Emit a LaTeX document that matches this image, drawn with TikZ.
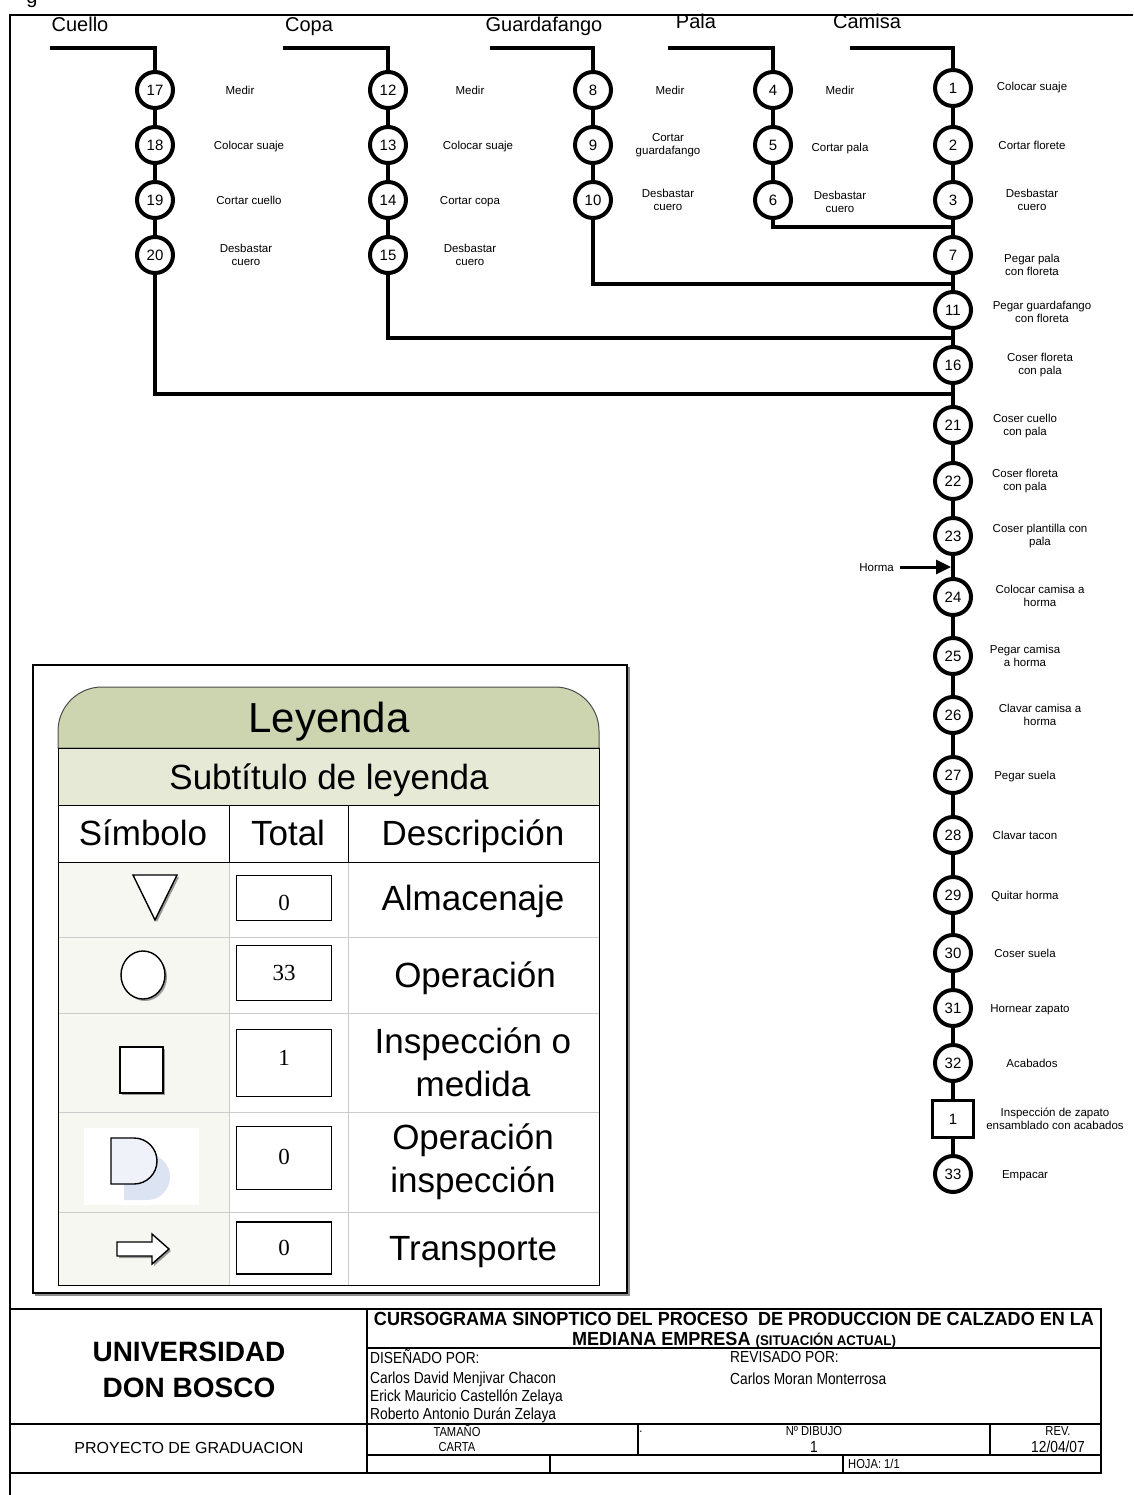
\documentclass[tikz,border=0pt]{standalone}
\usepackage{fontspec}
\usepackage{graphicx}
\setmainfont{Liberation Sans}
\newfontfamily\serifnum{Liberation Serif}
\newfontfamily\narrowfont[FakeStretch=0.86]{Liberation Sans}
\newfontfamily\titlefont[FakeStretch=0.95]{Liberation Sans}
\usetikzlibrary{arrows.meta}
\definecolor{hdr}{HTML}{CDD5B0}
\definecolor{subhdr}{HTML}{E6E9D6}
\definecolor{symcol}{HTML}{F6F7F1}
\definecolor{gridgray}{HTML}{CCCCCC}
\definecolor{dshadow}{HTML}{DCE3F2}
\definecolor{dfill}{HTML}{F0F2FA}
\newcommand{\fs}[2]{\fontsize{#1}{#2}\selectfont}

\begin{document}
\begin{tikzpicture}[x=1pt,y=-1pt,
  op/.style={circle, draw, line width=4pt, fill=white, minimum size=36pt, inner sep=0pt, font=\fs{15}{17}},
  inspbox/.style={rectangle, draw, line width=3.5pt, fill=white, minimum width=41pt, minimum height=37pt, inner sep=0pt, font=\fs{15}{17}},
  flow/.style={line width=4pt},
  lbl/.style={align=center, font=\fs{11.5}{13}, inner sep=0pt},
  lblone/.style={lbl, text height=10pt, text depth=1.5pt},
  head/.style={font=\fs{20}{22}, inner sep=0pt, anchor=base},
  legbig/.style={font=\fs{35}{43}, align=center, inner sep=0pt},
  legone/.style={legbig, text height=29pt, text depth=4pt},
  numbox/.style={draw, line width=1.6pt, fill=white, minimum width=95pt, inner sep=0pt},
  numtxt/.style={font=\serifnum\fs{23}{25}, inner sep=0pt},
  tb/.style={font=\narrowfont\fs{16}{18}, inner sep=0pt},
  tbsmall/.style={font=\narrowfont\fs{13}{15}, inner sep=0pt},
  shadowline/.style={draw=black!45, line width=1.6pt}
]
\useasboundingbox (0,0) rectangle (1133,1495);

% sheet frame and the cut heading letter
\begin{scope}
  \clip (0,0) rectangle (120,9);
  \node[font=\fs{20}{22}, anchor=base, inner sep=0pt] (gcut) at (32,4) {g};
\end{scope}
\draw[line width=2pt] (1133,15) -- (10,15) -- (10,1495);

% ---------- component lines ----------
\node[head] (hCuello) at (80,32) {Cuello};
\node[head] (hCopa) at (309,32) {Copa};
\node[head] (hGuarda) at (544,32) {Guardafango};
\node[head] (hPala) at (696,29) {Pala};
\node[head] (hCamisa) at (867,29) {Camisa};

\coordinate (sCuello) at (50,48);
\coordinate (sCopa) at (283,48);
\coordinate (sGuarda) at (490,48);
\coordinate (sPala) at (668,48);
\coordinate (sCamisa) at (850,48);

% Cuello
\node[op] (c17) at (155,90) {17};
\node[op] (c18) at (155,145) {18};
\node[op] (c19) at (155,200) {19};
\node[op] (c20) at (155,255) {20};
% Copa
\node[op] (c12) at (388,90) {12};
\node[op] (c13) at (388,145) {13};
\node[op] (c14) at (388,200) {14};
\node[op] (c15) at (388,255) {15};
% Guardafango
\node[op] (c8) at (593,90) {8};
\node[op] (c9) at (593,145) {9};
\node[op] (c10) at (593,200) {10};
% Pala
\node[op] (c4) at (773,90) {4};
\node[op] (c5) at (773,145) {5};
\node[op] (c6) at (773,200) {6};
% Camisa and main line
\node[op] (c1) at (953,88) {1};
\node[op] (c2) at (953,145) {2};
\node[op] (c3) at (953,200) {3};
\node[op] (c7) at (953,255) {7};
\node[op] (c11) at (953,310) {11};
\node[op] (c16) at (953,365) {16};
\node[op] (c21) at (953,425) {21};
\node[op] (c22) at (953,481) {22};
\node[op] (c23) at (953,536) {23};
\node[op] (c24) at (953,597) {24};
\node[op] (c25) at (953,656) {25};
\node[op] (c26) at (953,715) {26};
\node[op] (c27) at (953,775) {27};
\node[op] (c28) at (953,835) {28};
\node[op] (c29) at (953,895) {29};
\node[op] (c30) at (953,953) {30};
\node[op] (c31) at (953,1008) {31};
\node[op] (c32) at (953,1063) {32};
\node[inspbox] (i1) at (953,1119) {1};
\node[op] (c33) at (953,1174) {33};

% operation labels
\node[lblone] (t17) at (240,90) {Medir};
\node[lblone] (t18) at (249,145) {Colocar suaje};
\node[lblone] (t19) at (249,200) {Cortar cuello};
\node[lbl] (t20) at (246,255) {Desbastar\\cuero};
\node[lblone] (t12) at (470,90) {Medir};
\node[lblone] (t13) at (478,145) {Colocar suaje};
\node[lblone] (t14) at (470,200) {Cortar copa};
\node[lbl] (t15) at (470,255) {Desbastar\\cuero};
\node[lblone] (t8) at (670,90) {Medir};
\node[lbl] (t9) at (668,145) {Cortar\\guardafango};
\node[lbl] (t10) at (668,200) {Desbastar\\cuero};
\node[lblone] (t4) at (840,90) {Medir};
\node[lblone] (t5) at (840,147) {Cortar pala};
\node[lbl] (t6) at (840,202) {Desbastar\\cuero};
\node[lblone] (t1) at (1032,86) {Colocar suaje};
\node[lblone] (t2) at (1032,145) {Cortar florete};
\node[lbl] (t3) at (1032,200) {Desbastar\\cuero};
\node[lbl] (t7) at (1032,265) {Pegar pala\\con floreta};
\node[lbl] (t11) at (1042,312) {Pegar guardafango\\con floreta};
\node[lbl] (t16) at (1040,365) {Coser floreta\\con pala};
\node[lbl] (t21) at (1025,426) {Coser cuello\\con pala};
\node[lbl] (t22) at (1025,481) {Coser floreta\\con pala};
\node[lbl] (t23) at (1040,536) {Coser plantilla con\\pala};
\node[lbl] (t24) at (1040,596) {Colocar camisa a\\horma};
\node[lbl] (t25) at (1025,656) {Pegar camisa\\a horma};
\node[lbl] (t26) at (1040,715) {Clavar camisa a\\horma};
\node[lblone] (t27) at (1025,775) {Pegar suela};
\node[lblone] (t28) at (1025,835) {Clavar tacon};
\node[lblone] (t29) at (1025,895) {Quitar horma};
\node[lblone] (t30) at (1025,953) {Coser suela};
\node[lblone] (t31) at (1030,1008) {Hornear zapato};
\node[lblone] (t32) at (1032,1063) {Acabados};
\node[lbl] (ti1) at (1055,1119) {Inspecci\'on de zapato\\ensamblado con acabados};
\node[lblone] (t33) at (1025,1174) {Empacar};

% incoming lines
\draw[flow] (sCuello) -| (c17);
\draw[flow] (sCopa) -| (c12);
\draw[flow] (sGuarda) -| (c8);
\draw[flow] (sPala) -| (c4);
\draw[flow] (sCamisa) -| (c1);

% chains inside each component
\foreach \a/\b in {c17/c18, c18/c19, c19/c20, c12/c13, c13/c14, c14/c15,
                   c8/c9, c9/c10, c4/c5, c5/c6,
                   c1/c2, c2/c3, c3/c7, c7/c11, c11/c16, c16/c21, c21/c22,
                   c22/c23, c23/c24, c24/c25, c25/c26, c26/c27, c27/c28,
                   c28/c29, c29/c30, c30/c31, c31/c32, c32/i1, i1/c33}
  \draw[flow] (\a) -- (\b);

% joins into the main line
\coordinate (jPala) at (953,227);
\coordinate (jGuarda) at (953,284);
\coordinate (jCopa) at (953,338);
\coordinate (jCuello) at (953,394);
\draw[flow] (c6) |- (jPala);
\draw[flow] (c10) |- (jGuarda);
\draw[flow] (c15) |- (jCopa);
\draw[flow] (c20) |- (jCuello);

% external material: horma
\node[lblone, anchor=east] (horma) at (894,567) {Horma};
\coordinate (jHorma) at (951,567);
\draw[line width=3pt, -{Triangle[length=15pt,width=14pt]}, shorten <=6pt] (horma.east) -- (jHorma);

% ---------- legend ----------
\draw[shadowline] (35,1295) -- (629,1295) -- (629,667);
\draw[line width=1.8pt] (33,665) rectangle (627,1293);

\path[fill=hdr, draw=black!70, line width=1pt] (58,748) [rounded corners=44pt] -- (58,687) -- (599,687) [sharp corners] -- (599,748) -- cycle;
\fill[subhdr] (58,748) rectangle (599,805);
\fill[symcol] (58,862) rectangle (229,1285);
\fill[white] (84,1128) rectangle (199,1205);

% grid
\draw[gridgray, line width=1pt] (58,937) -- (599,937) (58,1013) -- (599,1013)
  (58,1112) -- (599,1112) (58,1212) -- (599,1212)
  (229,862) -- (229,1285) (348,862) -- (348,1285);
\draw[line width=1pt] (58,748) -- (599,748) (58,805) -- (599,805) (58,862) -- (599,862)
  (229,805) -- (229,862) (348,805) -- (348,862)
  (58,748) -- (58,1285) -- (599,1285) -- (599,748);

\node[font=\fs{42}{46}, inner sep=0pt, text height=35pt, text depth=5pt] (legTitle) at (329,717) {Leyenda};
\node[legone] (legSub) at (329,777) {Subt\'itulo de leyenda};
\node[legone] (colSym) at (143,833) {S\'imbolo};
\node[legone] (colTot) at (288,833) {Total};
\node[legone] (colDesc) at (473,833) {Descripci\'on};

% symbols
\fill[black!40] (135,877) -- (179,877) -- (157,922) -- cycle;
\draw[line width=1.4pt, fill=white] (133,875) -- (177,875) -- (155,920) -- cycle;
\fill[black!40] (145,977) ellipse [x radius=22, y radius=24];
\draw[line width=1.4pt, fill=white] (143,975) ellipse [x radius=22, y radius=24];
\fill[black!40] (122,1049) rectangle (165,1095);
\draw[line width=1.6pt, fill=white] (120,1047) rectangle (163,1093);
\fill[dshadow] (124,1154) -- (147,1154) arc[start angle=-90, end angle=90, radius=23] -- (124,1200) -- cycle;
\draw[line width=1.4pt, fill=dfill] (111,1138) -- (134,1138) arc[start angle=-90, end angle=90, radius=23] -- (111,1184) -- cycle;
\fill[black!40] (119,1244) -- (154,1244) -- (154,1236) -- (171,1251) -- (154,1266) -- (154,1258) -- (119,1258) -- cycle;
\draw[line width=1.4pt, fill=white] (117,1242) -- (152,1242) -- (152,1234) -- (169,1249) -- (152,1264) -- (152,1256) -- (117,1256) -- cycle;

% totals
\node[numbox, minimum height=45pt] (n1) at (284,898) {};
\node[numbox, minimum height=55pt] (n2) at (284,973) {};
\node[numbox, minimum height=67pt] (n3) at (284,1063) {};
\node[numbox, minimum height=63pt] (n4) at (284,1158) {};
\node[numbox, minimum height=52pt] (n5) at (284,1248) {};
\node[numtxt] (v1) at (284,903) {0};
\node[numtxt] (v2) at (284,973) {33};
\node[numtxt] (v3) at (284,1058) {1};
\node[numtxt] (v4) at (284,1157) {0};
\node[numtxt] (v5) at (284,1248) {0};

% descriptions
\node[legone] (d1) at (473,898) {Almacenaje};
\node[legone] (d2) at (475,975) {Operaci\'on};
\node[legbig] (d3) at (473,1062) {Inspecci\'on o\\medida};
\node[legbig] (d4) at (473,1162) {Operaci\'on\\inspecci\'on};
\node[legone] (d5) at (473,1248) {Transporte};

% ---------- title block ----------
\draw[line width=1.5pt] (10,1309) rectangle (1101,1473);
\draw[line width=1.2pt] (367,1309) -- (367,1473)
  (10,1424) -- (1101,1424)
  (367,1348) -- (1101,1348)
  (367,1455) -- (1101,1455)
  (638,1424) -- (638,1455)
  (990,1424) -- (990,1455)
  (550,1455) -- (550,1473)
  (843,1455) -- (843,1473);

\node[font=\bfseries\fs{28}{30}, inner sep=0pt] (uni1) at (189,1352) {UNIVERSIDAD};
\node[font=\bfseries\fs{28}{30}, inner sep=0pt] (uni2) at (189,1388) {DON BOSCO};
\node[font=\fs{16}{18}, inner sep=0pt] (proy) at (189,1448) {PROYECTO DE GRADUACION};

\node[font=\titlefont\bfseries\fs{19}{21}, inner sep=0pt, anchor=base] (titA) at (734,1325) {CURSOGRAMA SINOPTICO DEL PROCESO \ DE PRODUCCION DE CALZADO EN LA};
\node[font=\titlefont\bfseries\fs{19}{21}, inner sep=0pt, anchor=base] (titB) at (734,1345) {MEDIANA EMPRESA {\fs{14}{16}(SITUACI\'ON ACTUAL)}};

\node[tb, anchor=west] (dis) at (370,1357) {DISE\~NADO POR:};
\node[tb, anchor=west] (nm1) at (370,1379) {Carlos David Menjivar Chacon};
\node[tb, anchor=west] (nm2) at (370,1397) {Erick Mauricio Castell\'on Zelaya};
\node[tb, anchor=west] (nm3) at (370,1415) {Roberto Antonio Dur\'an Zelaya};
\node[tb, anchor=west] (rev) at (730,1357) {REVISADO POR:};
\node[tb, anchor=west] (rvn) at (730,1379) {Carlos Moran Monterrosa};

\node[tbsmall] (tam) at (457,1431) {TAMA\~NO};
\node[tbsmall] (carta) at (457,1447) {CARTA};
\node[tbsmall] (dot) at (641,1432) {.};
\node[tbsmall] (ndib) at (814,1431) {Nº DIBUJO};
\node[tb] (ndv) at (814,1447) {1};
\node[tbsmall] (revl) at (1058,1431) {REV.};
\node[tb] (revv) at (1058,1447) {12/04/07};
\node[tbsmall, anchor=west] (hoja) at (848,1464) {HOJA: 1/1};
\end{tikzpicture}
\end{document}
